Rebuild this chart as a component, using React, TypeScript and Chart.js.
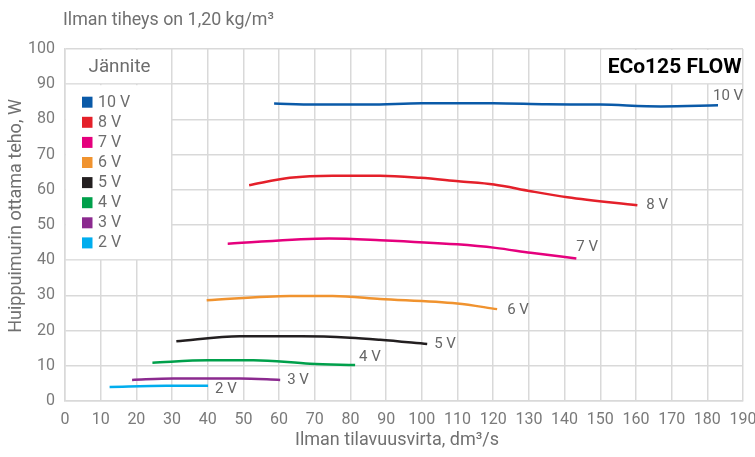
import React, { useEffect, useRef } from "react";
import { Chart, registerables } from "chart.js";

Chart.register(...registerables);

const seriesNames = ["10 V", "8 V", "7 V", "6 V", "5 V", "4 V", "3 V", "2 V"];
const seriesColors = ["#0a5aa8", "#e4202a", "#e5007d", "#f0932f", "#231f20", "#00a04b", "#8b2a8f", "#00adee"];

const v10X = [58.6, 70, 85, 100, 120, 135, 150, 167, 183];
const v10Y = [84.5, 84.2, 84.2, 84.6, 84.6, 84.3, 84.2, 83.7, 84.0];
const v8X = [51.6, 63, 75, 88.3, 99.6, 110.3, 120.2, 130.5, 140.8, 160.4];
const v8Y = [61.3, 63.4, 64.0, 64.0, 63.4, 62.4, 61.5, 59.6, 57.9, 55.6];
const v7X = [45.6, 74, 88.3, 109.9, 120.6, 130.5, 143.3];
const v7Y = [44.7, 46.2, 45.7, 44.5, 43.5, 42.1, 40.5];
const v6X = [39.7, 63, 75, 88.3, 109.9, 121.1];
const v6Y = [28.6, 29.8, 29.8, 29.0, 27.7, 26.1];
const v5X = [31.2, 49, 66.3, 79.9, 88.3, 101.5];
const v5Y = [17.0, 18.4, 18.4, 18.0, 17.4, 16.2];
const v4X = [24.5, 40.1, 52.8, 68.7, 81.3];
const v4Y = [10.9, 11.6, 11.6, 10.6, 10.2];
const v3X = [18.8, 30.3, 49, 60.3];
const v3Y = [6.0, 6.4, 6.4, 6.0];
const v2X = [12.5, 28.4, 40.1];
const v2Y = [4.0, 4.3, 4.3];

const seriesX = [v10X, v8X, v7X, v6X, v5X, v4X, v3X, v2X];
const seriesY = [v10Y, v8Y, v7Y, v6Y, v5Y, v4Y, v3Y, v2Y];

const chartTitle = "ECo125 FLOW";
const topNote = "Ilman tiheys on 1,20 kg/m³";
const xTitle = "Ilman tilavuusvirta, dm³/s";
const yTitle = "Huippuimurin ottama teho, W";
const legendTitle = "Jännite";

// end-label offsets in pixels (style)
const labelOffsets = [
  [-5, -9], [9, 0], [0, -11], [10, 1], [7, 0], [4, -8], [7, 0], [7, 3],
];

const FONT = "'Liberation Sans Narrow', 'Roboto', sans-serif";
const GRID = "#d9d9d9";

const overlayPlugin = {
  id: "overlay",
  beforeDatasetsDraw(chart: any) {
    const ctx = chart.ctx;
    const xs = chart.scales.x;
    const ys = chart.scales.y;
    ctx.save();
    ctx.fillStyle = "#ffffff";
    const l = xs.getPixelForValue(0);
    const r30 = xs.getPixelForValue(30);
    const t = ys.getPixelForValue(100);
    const y90 = ys.getPixelForValue(90);
    const y40 = ys.getPixelForValue(40);
    ctx.fillRect(l + 1, t + 1, r30 - l - 2, y90 - t - 2);
    ctx.fillRect(l + 1, y90 + 1, r30 - l - 2, y40 - y90 - 2);
    const x150 = xs.getPixelForValue(150);
    const x190 = xs.getPixelForValue(190);
    ctx.fillRect(x150 + 1, t + 1, x190 - x150 - 2, y90 - t - 2);
    ctx.restore();
  },
  afterDatasetsDraw(chart: any) {
    const ctx = chart.ctx;
    const xs = chart.scales.x;
    const ys = chart.scales.y;
    ctx.save();
    // end labels
    ctx.font = `15px ${FONT}`;
    ctx.fillStyle = "#666666";
    ctx.textBaseline = "middle";
    ctx.textAlign = "left";
    seriesNames.forEach((name, i) => {
      const xArr = seriesX[i];
      const yArr = seriesY[i];
      const px = xs.getPixelForValue(xArr[xArr.length - 1]);
      const py = ys.getPixelForValue(yArr[yArr.length - 1]);
      ctx.fillText(name, px + labelOffsets[i][0], py + labelOffsets[i][1]);
    });
    // legend
    const l = xs.getPixelForValue(0);
    const r30 = xs.getPixelForValue(30);
    const t = ys.getPixelForValue(100);
    const y90 = ys.getPixelForValue(90);
    ctx.font = `19px ${FONT}`;
    ctx.fillStyle = "#6d6d6d";
    ctx.textAlign = "center";
    ctx.fillText(legendTitle, (l + r30) / 2 + 1, (t + y90) / 2 + 1, 62);
    ctx.textAlign = "left";
    ctx.font = `16px ${FONT}`;
    seriesNames.forEach((name, i) => {
      const cy = y90 + 18 + i * 20.1;
      ctx.fillStyle = seriesColors[i];
      ctx.fillRect(l + 17, cy - 5.5, 10.5, 11);
      ctx.fillStyle = "#6d6d6d";
      ctx.fillText(name, l + 33, cy + 0.5);
    });
    // chart title
    const x190 = xs.getPixelForValue(190);
    ctx.font = `bold 21px ${FONT}`;
    ctx.fillStyle = "#000000";
    ctx.textAlign = "right";
    ctx.fillText(chartTitle, x190 - 1.5, (t + y90) / 2 + 1, 139);
    // top note
    ctx.font = `18px ${FONT}`;
    ctx.fillStyle = "#707070";
    ctx.textAlign = "left";
    ctx.fillText(topNote, 63, 20, 211);
    // x title
    ctx.textAlign = "center";
    ctx.fillText(xTitle, 397, 440, 206);
    // y title
    ctx.translate(16, 216);
    ctx.rotate(-Math.PI / 2);
    ctx.fillText(yTitle, 0, 0, 236);
    ctx.restore();
  },
};

export default function App() {
  const canvasRef = useRef<HTMLCanvasElement | null>(null);

  useEffect(() => {
    if (!canvasRef.current) return;
    const datasets = seriesNames.map((name, i) => ({
      label: name,
      data: seriesX[i].map((x, j) => ({ x, y: seriesY[i][j] })),
      borderColor: seriesColors[i],
      backgroundColor: seriesColors[i],
      borderWidth: 2.5,
      pointRadius: 0,
      showLine: true,
      fill: false,
      cubicInterpolationMode: "monotone" as const,
    }));
    const chart = new Chart(canvasRef.current, {
      type: "scatter",
      data: { datasets },
      options: {
        animation: false,
        responsive: true,
        maintainAspectRatio: false,
        layout: { padding: { left: 0, top: 49, right: 12, bottom: 0 } },
        plugins: {
          legend: { display: false },
          tooltip: { enabled: false },
          title: { display: false },
        },
        scales: {
          x: {
            type: "linear",
            min: 0,
            max: 190,
            afterFit: (s: any) => {
              s.height = 56;
              s.paddingLeft = 0;
              s.paddingRight = 0;
            },
            ticks: {
              stepSize: 10,
              padding: 9,
              color: "#7a7a7a",
              font: { family: FONT, size: 16 },
              maxRotation: 0,
              autoSkip: false,
            },
            grid: { color: GRID, lineWidth: 1.5, drawTicks: false },
            border: { color: GRID, width: 1.5 },
          },
          y: {
            type: "linear",
            min: 0,
            max: 100,
            afterFit: (s: any) => {
              s.width = 65;
              s.paddingTop = 0;
              s.paddingBottom = 0;
            },
            ticks: {
              stepSize: 10,
              padding: 10,
              color: "#7a7a7a",
              font: { family: FONT, size: 16 },
            },
            grid: { color: GRID, lineWidth: 1.5, drawTicks: false },
            border: { color: GRID, width: 1.5 },
          },
        },
      },
      plugins: [overlayPlugin],
    });
    return () => chart.destroy();
  }, []);

  return (
    <div style={{ position: "absolute", left: 0, top: 0, width: 755, height: 457, background: "#fff" }}>
      <canvas ref={canvasRef} />
    </div>
  );
}
